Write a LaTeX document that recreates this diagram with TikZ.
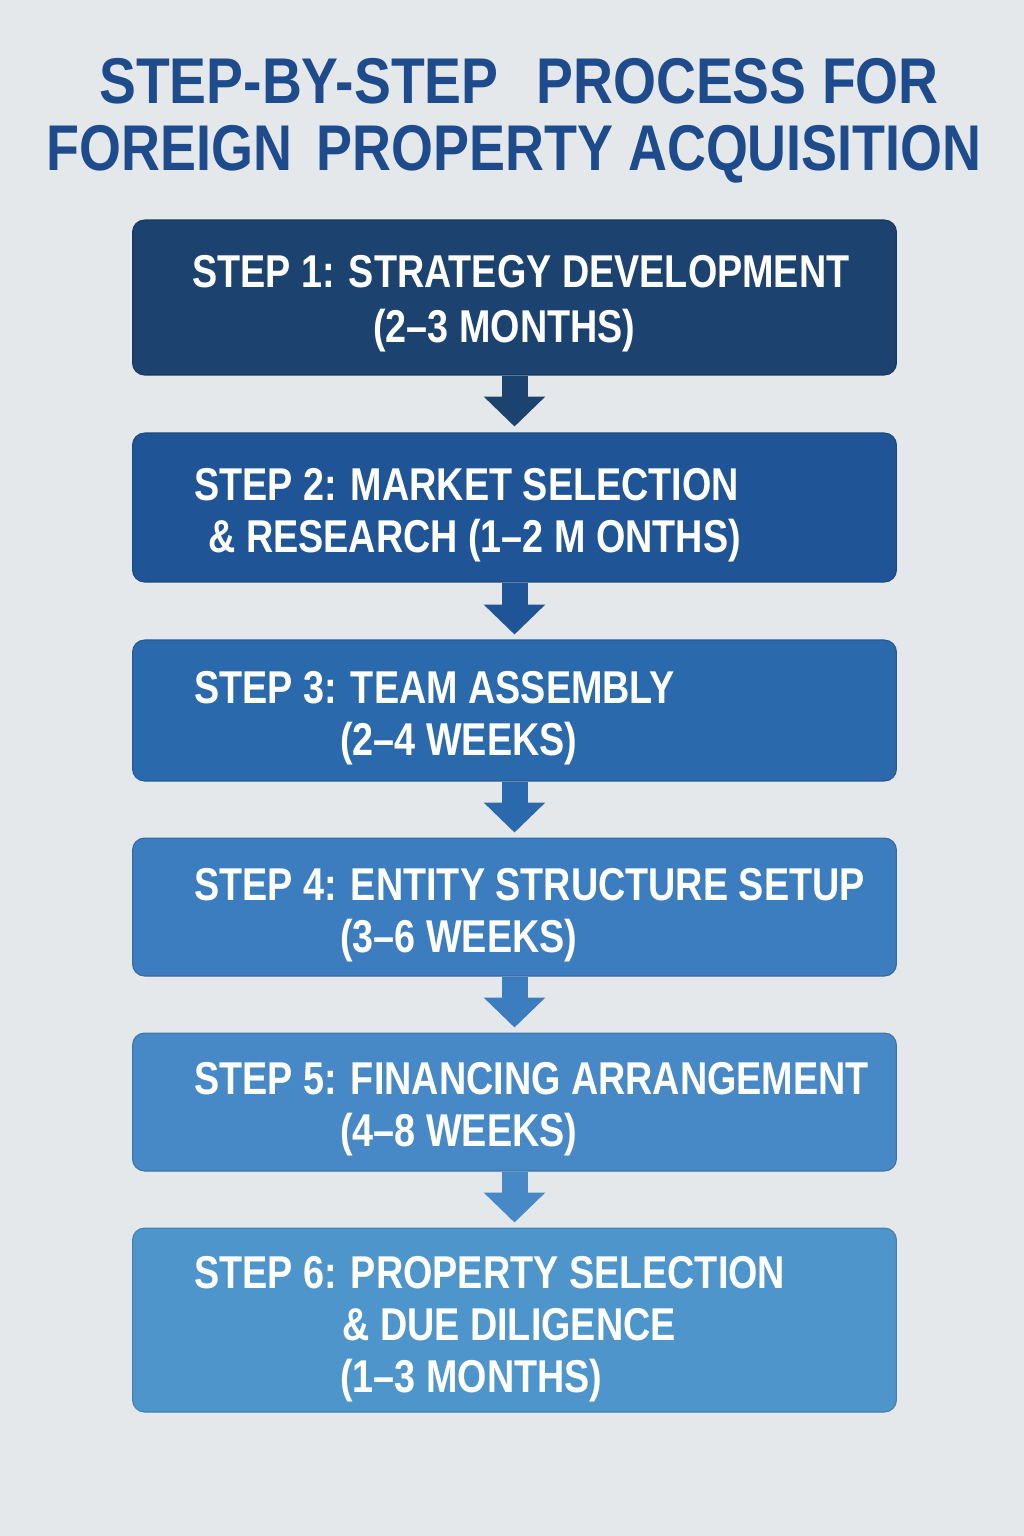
\documentclass[tikz,border=0pt]{standalone}
\usepackage{fontspec}
\usetikzlibrary{arrows.meta}
\newfontfamily\titlefont{Liberation Sans}[FakeStretch=0.855]
\newfontfamily\boxfont{Liberation Sans}[FakeStretch=0.82]
\definecolor{pagebg}{HTML}{E5E8EA}
\definecolor{titleblue}{HTML}{1E4B8B}
\definecolor{stepA}{HTML}{1C4270}
\definecolor{stepB}{HTML}{1F5597}
\definecolor{stepC}{HTML}{2B69AD}
\definecolor{stepD}{HTML}{3B7DBF}
\definecolor{stepE}{HTML}{4689C6}
\definecolor{stepF}{HTML}{4E95CC}
\tikzset{
  stepbox/.style={rectangle,rounded corners=0.24cm,minimum width=15.28cm,draw=#1!85!black,line width=0.6pt,fill=#1},
  steptext/.style={anchor=base west,inner sep=0pt,text=white,font=\boxfont\bfseries\fontsize{26.2}{30}\selectfont},
  titletext/.style={anchor=base,inner sep=0pt,text=titleblue,font=\titlefont\bfseries\fontsize{36.8}{40}\selectfont},
  flow/.style={line width=0.52cm,draw=#1,-{Triangle[length=0.6cm,width=1.2cm]}}
}
\begin{document}
\begin{tikzpicture}[x=0.02cm,y=-0.02cm]
\fill[pagebg] (0,0) rectangle (1024,1536);
\useasboundingbox (0,0) rectangle (1024,1536);
% title
\node[titletext] (t1) at (519,103) {STEP-BY-STEP\hspace{0.45cm} PROCESS FOR};
\node[titletext] (t2) at (514,170) {\scalebox{0.975}[1]{FOREIGN\hspace{0.2cm} PROPERTY ACQUISITION}};
% steps
\node[stepbox=stepA,minimum height=3.1cm] (s1) at (514.5,297.5) {};
\node[stepbox=stepB,minimum height=2.98cm] (s2) at (514.5,507.5) {};
\node[stepbox=stepC,minimum height=2.82cm] (s3) at (514.5,710.5) {};
\node[stepbox=stepD,minimum height=2.76cm] (s4) at (514.5,907) {};
\node[stepbox=stepE,minimum height=2.76cm] (s5) at (514.5,1102) {};
\node[stepbox=stepF,minimum height=3.68cm] (s6) at (514.5,1320) {};
\node[steptext] (s1a) at (192,287.5) {STEP 1: STRATEGY DEVELOPMENT};
\node[steptext] (s1b) at (373,342.5) {(2–3 MONTHS)};
\node[steptext] (s2a) at (194,500) {STEP 2: MARKET SELECTION};
\node[steptext] (s2b) at (208,552) {\& RESEARCH (1–2 M ONTHS)};
\node[steptext] (s3a) at (194,703) {STEP 3: TEAM ASSEMBLY};
\node[steptext] (s3b) at (340,755) {(2–4 WEEKS)};
\node[steptext] (s4a) at (194,900) {STEP 4: ENTITY STRUCTURE SETUP};
\node[steptext] (s4b) at (340,952) {(3–6 WEEKS)};
\node[steptext] (s5a) at (194,1094) {STEP 5: FINANCING ARRANGEMENT};
\node[steptext] (s5b) at (340,1146) {(4–8 WEEKS)};
\node[steptext] (s6a) at (194,1288) {STEP 6: PROPERTY SELECTION};
\node[steptext] (s6b) at (342,1340) {\& DUE DILIGENCE};
\node[steptext] (s6c) at (340,1392) {(1–3 MONTHS)};
% arrows
\draw[flow=stepA] (s1.south) -- ([yshift=0.12cm]s2.north);
\draw[flow=stepB] (s2.south) -- ([yshift=0.1cm]s3.north);
\draw[flow=stepC] (s3.south) -- ([yshift=0.1cm]s4.north);
\draw[flow=stepD] (s4.south) -- ([yshift=0.1cm]s5.north);
\draw[flow=stepE] (s5.south) -- ([yshift=0.1cm]s6.north);
\end{tikzpicture}
\end{document}
